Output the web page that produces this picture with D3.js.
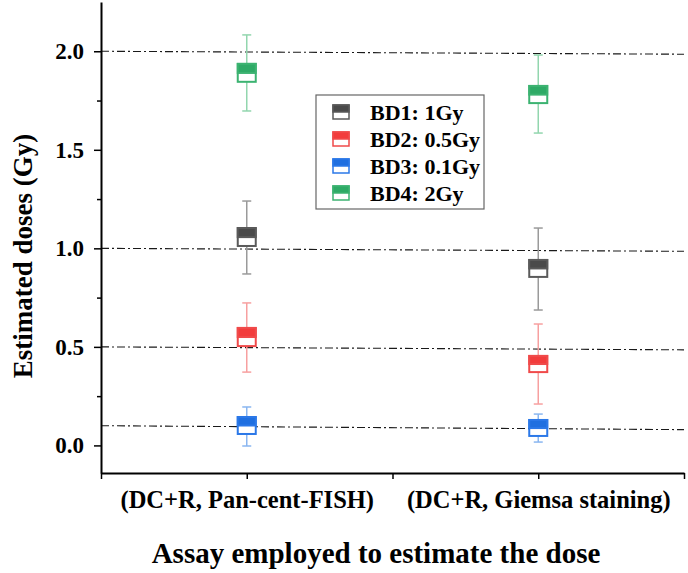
<!DOCTYPE html>
<html>
<head>
<meta charset="utf-8">
<script src="https://cdn.jsdelivr.net/npm/d3@7"></script>
<style>
  body { margin: 0; background: #fff; }
  svg { display: block; font-family: 'Liberation Serif', 'Times New Roman', serif; font-weight: bold; }
  .axis path, .axis line { stroke: #000; }
</style>
</head>
<body>
<svg width="688" height="573"></svg>
<script>
const assays = ['(DC+R, Pan-cent-FISH)', '(DC+R, Giemsa staining)'];
const series = ['BD1: 1Gy', 'BD2: 0.5Gy', 'BD3: 0.1Gy', 'BD4: 2Gy'];

// one row per series, one value per assay
const boxTop = [[1.103, 0.941], [0.596, 0.454], [0.144, 0.129], [1.936, 1.824]];
const boxMid = [[1.057, 0.898], [0.550, 0.413], [0.101, 0.088], [1.890, 1.780]];
const boxBottom = [[1.012, 0.855], [0.504, 0.372], [0.058, 0.048], [1.845, 1.737]];
const whiskerTop = [[1.240, 1.103], [0.723, 0.616], [0.195, 0.159], [2.083, 1.981]];
const whiskerBottom = [[0.870, 0.687], [0.372, 0.210], [-0.003, 0.017], [1.697, 1.585]];

// dash-dot reference lines (left value, right value)
const refStart = [2.0, 1.0, 0.5, 0.1];
const refEnd = [1.985, 0.985, 0.485, 0.08];

const yTicks = [0, 0.5, 1, 1.5, 2];
const yMinor = [0.25, 0.75, 1.25, 1.75];

const fills = ['#4a4a4a', '#f23c3c', '#1f6fe0', '#2eaa66'];
const borders = ['#5a5a5a', '#f04a4a', '#2b78e8', '#3cb371'];
const whiskers = ['#9a9a9a', '#f7a0a0', '#8ab6f0', '#92d6ae'];

const plotLeft = 101, plotRight = 684, plotTop = 2, plotBottom = 473;
const boxW = 18, capW = 9;

const svg = d3.select('svg');

const x = d3.scaleLinear().domain([0.5, 2.5]).range([plotLeft, plotRight]);
const y = d3.scaleLinear().domain([-0.14, 2.25]).range([plotBottom, plotTop]);

// reference lines
svg.append('g').selectAll('line')
    .data(refStart)
    .join('line')
    .attr('x1', plotLeft)
    .attr('x2', plotRight)
    .attr('y1', d => y(d))
    .attr('y2', (d, i) => y(refEnd[i]))
    .attr('stroke', '#1a1a1a')
    .attr('stroke-width', 1.1)
    .attr('stroke-dasharray', '8,3,2,3');

// axes
const yAxis = svg.append('g')
    .attr('class', 'axis')
    .attr('transform', `translate(${plotLeft},0)`)
    .call(d3.axisLeft(y).tickValues(yTicks).tickSize(7).tickSizeOuter(0).tickPadding(10).tickFormat(d3.format('.1f')))
    .attr('font-family', null).attr('font-size', null);
yAxis.select('.domain').attr('stroke-width', 2);
yAxis.selectAll('.tick line').attr('stroke-width', 1.5);
yAxis.selectAll('text').attr('font-size', 23).attr('fill', '#000');

svg.append('g')
    .attr('class', 'axis')
    .attr('transform', `translate(${plotLeft},0)`)
    .call(d3.axisLeft(y).tickValues(yMinor).tickSize(4).tickFormat(''))
    .call(g => g.select('.domain').remove())
    .selectAll('.tick line').attr('stroke-width', 1.5);

const xAxis = svg.append('g')
    .attr('class', 'axis')
    .attr('transform', `translate(0,${plotBottom})`)
    .call(d3.axisBottom(x).tickValues([0.5, 1, 1.5, 2, 2.5]).tickSize(6).tickSizeOuter(0).tickPadding(12)
        .tickFormat(d => d === 1 ? assays[0] : d === 2 ? assays[1] : ''))
    .attr('font-family', null).attr('font-size', null);
xAxis.select('.domain').attr('stroke-width', 2);
xAxis.selectAll('.tick line').attr('stroke-width', 1.5);
xAxis.selectAll('text').attr('font-size', 24.5).attr('fill', '#000');

svg.append('text')
    .attr('transform', `translate(32,256) rotate(-90)`)
    .attr('text-anchor', 'middle')
    .attr('font-size', 27)
    .text('Estimated doses (Gy)');

svg.append('text')
    .attr('x', 376)
    .attr('y', 563)
    .attr('text-anchor', 'middle')
    .attr('font-size', 29)
    .text('Assay employed to estimate the dose');

// boxes
series.forEach((s, i) => {
    const g = svg.append('g');
    [1, 2].forEach((pos, j) => {
        const cx = x(pos);
        g.append('line')
            .attr('x1', cx).attr('x2', cx)
            .attr('y1', y(whiskerTop[i][j])).attr('y2', y(whiskerBottom[i][j]))
            .attr('stroke', whiskers[i]).attr('stroke-width', 1.5);
        [whiskerTop[i][j], whiskerBottom[i][j]].forEach(v => {
            g.append('line')
                .attr('x1', cx - capW / 2).attr('x2', cx + capW / 2)
                .attr('y1', y(v)).attr('y2', y(v))
                .attr('stroke', whiskers[i]).attr('stroke-width', 1.5);
        });
        g.append('rect')
            .attr('x', cx - boxW / 2).attr('width', boxW)
            .attr('y', y(boxTop[i][j])).attr('height', y(boxBottom[i][j]) - y(boxTop[i][j]))
            .attr('fill', '#fff').attr('stroke', borders[i]).attr('stroke-width', 2);
        g.append('rect')
            .attr('x', cx - boxW / 2).attr('width', boxW)
            .attr('y', y(boxTop[i][j])).attr('height', y(boxMid[i][j]) - y(boxTop[i][j]))
            .attr('fill', fills[i]).attr('stroke', borders[i]).attr('stroke-width', 2);
    });
});

// legend
const legend = svg.append('g').attr('transform', 'translate(316,95)');
legend.append('rect')
    .attr('width', 168).attr('height', 114)
    .attr('fill', '#fff').attr('stroke', '#666').attr('stroke-width', 1.2);
const item = legend.selectAll('g.item')
    .data(series)
    .join('g')
    .attr('class', 'item')
    .attr('transform', (d, i) => `translate(0,${17 + i * 27})`);
item.append('rect')
    .attr('x', 17).attr('y', -7).attr('width', 16).attr('height', 14)
    .attr('fill', '#fff').attr('stroke', (d, i) => borders[i]).attr('stroke-width', 1.5);
item.append('rect')
    .attr('x', 17).attr('y', -7).attr('width', 16).attr('height', 7)
    .attr('fill', (d, i) => fills[i]).attr('stroke', (d, i) => borders[i]).attr('stroke-width', 1.5);
item.append('text')
    .attr('x', 54).attr('y', 8)
    .attr('font-size', 22)
    .text(d => d);
</script>
</body>
</html>
